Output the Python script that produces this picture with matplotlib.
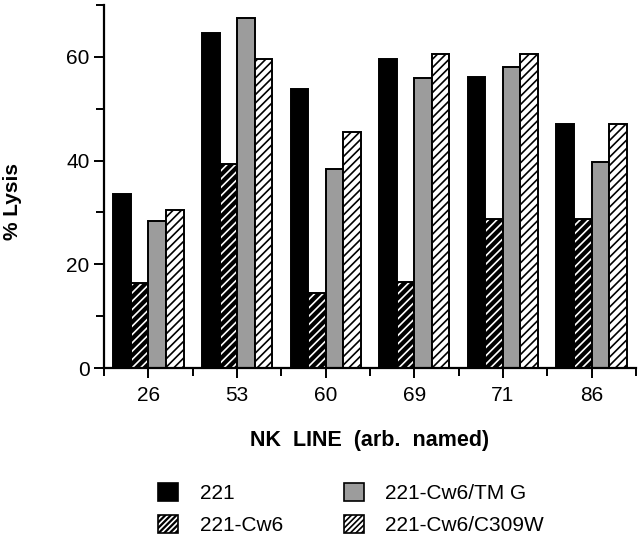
import matplotlib.pyplot as plt
from matplotlib.patches import Patch
from matplotlib.ticker import MultipleLocator
import numpy as np

plt.rcParams['font.family'] = ['Liberation Sans', 'DejaVu Sans']
plt.rcParams['hatch.linewidth'] = 1.2

# Data
nk_lines = ['26', '53', '60', '69', '71', '86']
lysis_221 = [33.5, 64.7, 53.8, 59.6, 56.1, 47.0]
lysis_cw6 = [16.4, 39.4, 14.4, 16.5, 28.7, 28.8]
lysis_tmg = [28.3, 67.6, 38.4, 55.9, 58.1, 39.7]
lysis_c309w = [30.4, 59.6, 45.6, 60.6, 60.6, 47.0]
series_names = ['221', '221-Cw6', '221-Cw6/TM G', '221-Cw6/C309W']

fig = plt.figure(figsize=(6.39, 5.4), dpi=100)
ax = fig.add_axes([0.163, 0.3185, 0.832, 0.672])

x = np.arange(len(nk_lines)) + 0.5
w = 0.198
offs = [-1.5 * w, -0.5 * w, 0.5 * w, 1.5 * w]
lw = 1.4

# 221: solid black
ax.bar(x + offs[0], lysis_221, w, color='black', edgecolor='black', lw=lw)
# 221-Cw6: black with white hatch (two layers)
ax.bar(x + offs[1], lysis_cw6, w, color='black', edgecolor='white',
       hatch='////', lw=0)
ax.bar(x + offs[1], lysis_cw6, w, fill=False, edgecolor='black', lw=lw)
# 221-Cw6/TM G: stippled grey
ax.bar(x + offs[2], lysis_tmg, w, color='#9c9c9c', edgecolor='black', lw=lw)
# 221-Cw6/C309W: white with black hatch
ax.bar(x + offs[3], lysis_c309w, w, color='white', edgecolor='black',
       hatch='////', lw=lw)

ax.set_xlim(0, 6)
ax.set_ylim(0, 70)
ax.set_xticks(x)
ax.set_xticklabels(nk_lines, fontsize=15)
ax.xaxis.set_minor_locator(MultipleLocator(1))
ax.set_yticks([0, 20, 40, 60])
ax.yaxis.set_minor_locator(MultipleLocator(10))
ax.tick_params(axis='both', which='both', width=1.4, direction='out')
ax.tick_params(axis='both', which='major', length=7, labelsize=15)
ax.tick_params(axis='both', which='minor', length=6)
ax.tick_params(axis='x', pad=6)

for s in ['top', 'right']:
    ax.spines[s].set_visible(False)
for s in ['left', 'bottom']:
    ax.spines[s].set_linewidth(1.6)

ax.set_ylabel('% Lysis', fontsize=15, fontweight='bold')
ax.yaxis.set_label_coords(-0.154, 0.46)
fig.text(0.578, 0.185, 'NK  LINE  (arb.  named)', fontsize=15.5,
         fontweight='bold', ha='center', va='center')

# Legend
handles = [
    Patch(facecolor='black', edgecolor='black', lw=1.2),
    (Patch(facecolor='black', edgecolor='white', hatch='//////', lw=0),
     Patch(fill=False, edgecolor='black', lw=1.2)),
    Patch(facecolor='#9c9c9c', edgecolor='black', lw=1.2),
    Patch(facecolor='white', edgecolor='black', hatch='//////', lw=1.2),
]
fig.legend(handles, series_names, ncol=2, loc='upper left',
           bbox_to_anchor=(158 / 639, 1 - 483 / 540), frameon=False,
           fontsize=15, borderpad=0, borderaxespad=0,
           handlelength=0.96, handleheight=0.96, handletextpad=1.05,
           columnspacing=2.9, labelspacing=0.55)

plt.savefig('out.png', dpi=100)
